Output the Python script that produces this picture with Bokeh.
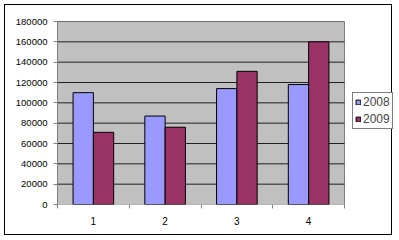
from bokeh.plotting import figure
from bokeh.models import (ColumnDataSource, FixedTicker, Range1d, Legend, LegendItem)
from bokeh.transform import dodge
from bokeh.embed import file_html
from bokeh.resources import INLINE

categories = ["1", "2", "3", "4"]
series_names = ["2008", "2009"]
values_2008 = [110000, 87000, 114000, 118000]
values_2009 = [71000, 76000, 131000, 160000]
y_ticks = [0, 20000, 40000, 60000, 80000, 100000, 120000, 140000, 160000, 180000]

n = len(categories)
positions = list(range(1, n + 1))
src = ColumnDataSource(dict(x=positions, v2008=values_2008, v2009=values_2009))

FONT = "Liberation Sans"

# plot area occupies 287 px of a 336 px frame; the rest holds the legend
x_start = 0.5
x_end = x_start + n * 336 / 287

p = figure(width=388, height=231, output_backend="svg", toolbar_location=None,
           x_range=Range1d(x_start, x_end), y_range=Range1d(y_ticks[0], y_ticks[-1]),
           min_border_left=52, min_border_right=0, min_border_top=16, min_border_bottom=32)
p.styles = {"border": "1px solid black", "margin": "4px 0 0 4px"}

p.background_fill_color = "white"
p.border_fill_color = "white"
p.outline_line_color = None

# plot area
p.quad(left=[x_start], right=[x_start + n], bottom=[y_ticks[0]], top=[y_ticks[-1]],
       fill_color="#C0C0C0", line_color="#808080", line_width=1)
# horizontal gridlines
p.segment(x0=[x_start] * (len(y_ticks) - 1), x1=[x_start + n] * (len(y_ticks) - 1),
          y0=y_ticks[1:], y1=y_ticks[1:], line_color="#202020", line_width=1)

bw = 0.283
r1 = p.vbar(x=dodge("x", -bw / 2), top="v2008", width=bw, source=src,
            fill_color="#9999FF", line_color="black", line_width=1)
r2 = p.vbar(x=dodge("x", bw / 2), top="v2009", width=bw, source=src,
            fill_color="#993366", line_color="black", line_width=1)

# y axis
p.yaxis.ticker = FixedTicker(ticks=y_ticks)
p.yaxis.formatter.use_scientific = False
p.yaxis.major_tick_out = 4
p.yaxis.major_tick_in = 0
p.yaxis.minor_tick_line_color = None
p.yaxis.axis_line_color = "#808080"
p.yaxis.major_tick_line_color = "#808080"
p.yaxis.major_label_text_font = FONT
p.yaxis.major_label_text_font_size = "9.5px"
p.yaxis.major_label_text_color = "black"
p.yaxis.major_label_standoff = 6

# x axis
p.xaxis.ticker = FixedTicker(ticks=positions,
                             minor_ticks=[i + 0.5 for i in range(0, n + 1)])
p.xaxis.major_label_overrides = {pos: c for pos, c in zip(positions, categories)}
p.xaxis.major_tick_out = 0
p.xaxis.major_tick_in = 0
p.xaxis.major_tick_line_color = None
p.xaxis.minor_tick_out = 4
p.xaxis.minor_tick_in = 0
p.xaxis.minor_tick_line_color = "#808080"
p.xaxis.axis_line_color = None
p.xaxis.major_label_text_font = FONT
p.xaxis.major_label_text_font_size = "10px"
p.xaxis.major_label_text_color = "black"
p.xaxis.major_label_standoff = 8

p.xgrid.grid_line_color = None
p.ygrid.grid_line_color = None

legend = Legend(items=[LegendItem(label=series_names[0], renderers=[r1]),
                       LegendItem(label=series_names[1], renderers=[r2])],
                location=(295, 75))
legend.border_line_color = "black"
legend.border_line_width = 1
legend.background_fill_color = "white"
legend.background_fill_alpha = 1
legend.label_text_font = FONT
legend.label_text_font_size = "12px"
legend.glyph_width = 6
legend.glyph_height = 6
legend.label_standoff = 2
legend.label_height = 14
legend.spacing = 3
legend.padding = 2
legend.margin = 0
p.add_layout(legend, "center")

open("out.html", "w").write(file_html(p, INLINE))
